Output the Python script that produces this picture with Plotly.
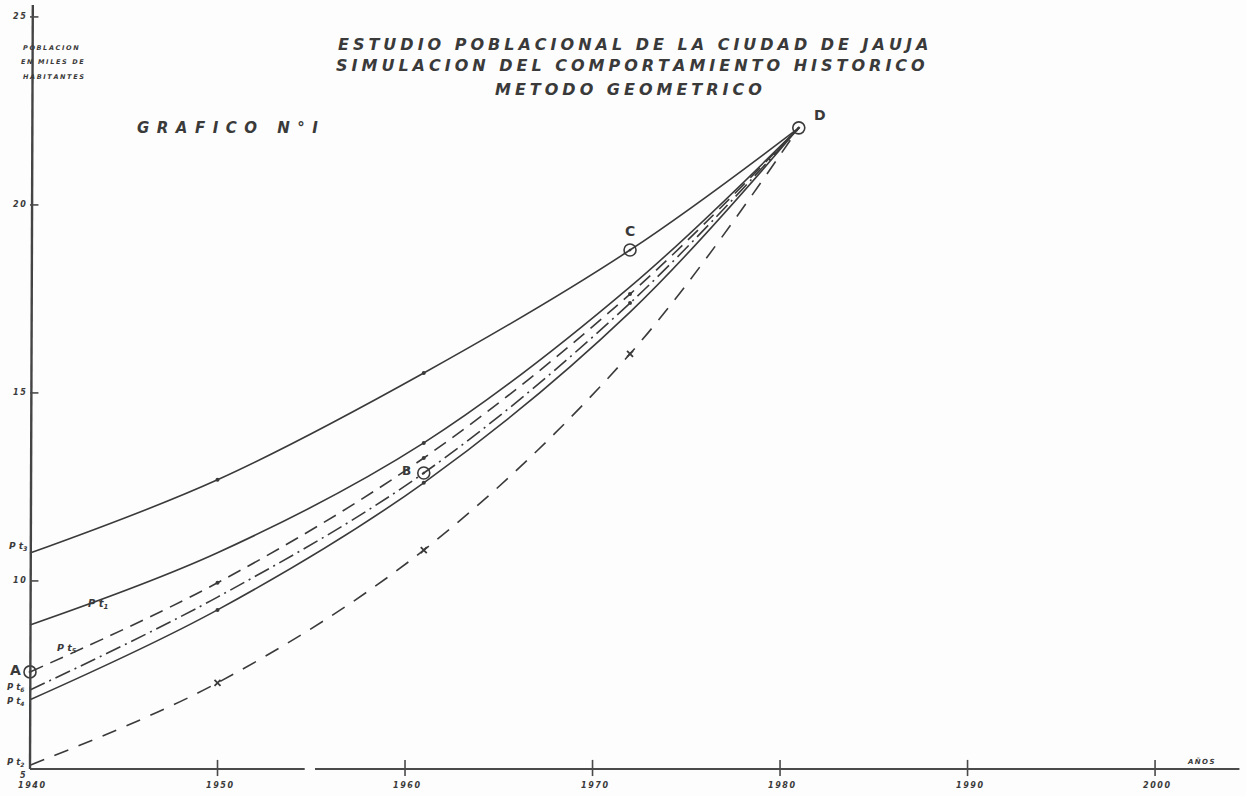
import plotly.graph_objects as go

# Census years and simulated population (thousands of inhabitants)
years = [1940, 1950, 1961, 1972, 1981]
pt3 = [10.74, 12.69, 15.53, 18.80, 22.05]
pt1 = [8.83, 10.75, 13.67, 17.82, 22.05]
pt5 = [7.58, 9.95, 13.27, 17.63, 22.05]
pt6 = [7.10, 9.57, 12.87, 17.39, 22.05]
pt4 = [6.84, 9.23, 12.61, 17.15, 22.05]
pt2 = [5.10, 7.29, 10.82, 16.04, 22.05]

# Census observations
census_labels = ["A", "B", "C", "D"]
census_years = [1940, 1961, 1972, 1981]
census_pop = [7.58, 12.87, 18.80, 22.05]

x_ticks = [1940, 1950, 1960, 1970, 1980, 1990, 2000]
y_ticks = [5, 10, 15, 20, 25]

INK = "#3a3a3a"
FONT = "DejaVu Sans"

fig = go.Figure()


def curve(ys, dash):
    fig.add_trace(go.Scatter(
        x=years, y=ys, mode="lines",
        line=dict(color=INK, width=1.6, dash=dash, shape="spline", smoothing=1.0),
        hoverinfo="skip", showlegend=False))


curve(pt3, "solid")
curve(pt1, "solid")
curve(pt5, "14px,8px")
curve(pt6, "16px,5px,2px,5px")
curve(pt4, "solid")
curve(pt2, "15px,11px")

# small dots marking computed values on the curves
dot_x, dot_y = [], []
for series, idxs in ((pt3, (1, 2)), (pt1, (2,)), (pt5, (1, 2, 3)),
                     (pt6, (3,)), (pt4, (1, 2))):
    for i in idxs:
        dot_x.append(years[i])
        dot_y.append(series[i])
fig.add_trace(go.Scatter(x=dot_x, y=dot_y, mode="markers",
                         marker=dict(color=INK, size=4), hoverinfo="skip",
                         showlegend=False))

# crosses on the lower curve
fig.add_trace(go.Scatter(x=years[1:4], y=pt2[1:4], mode="markers",
                         marker=dict(symbol="x-thin", size=6,
                                     line=dict(color=INK, width=1.8)),
                         hoverinfo="skip", showlegend=False))

# census points
fig.add_trace(go.Scatter(x=census_years, y=census_pop, mode="markers",
                         marker=dict(symbol="circle-open-dot", size=12,
                                     color=INK, line=dict(color=INK, width=1.6)),
                         hoverinfo="skip", showlegend=False))

# axes drawn by hand
x0, x1 = x_ticks[0], 2004.5
y0, y1 = y_ticks[0], 25.32
fig.add_trace(go.Scatter(x=[x0, x0 + 0.15], y=[y0, y1], mode="lines",
                         line=dict(color="#444444", width=2.4),
                         hoverinfo="skip", showlegend=False))
fig.add_trace(go.Scatter(x=[x0, 1954.65, None, 1955.2, x1], y=[y0, y0, None, y0, y0],
                         mode="lines", line=dict(color="#4a4a4a", width=2),
                         hoverinfo="skip", showlegend=False))
tx, ty = [], []
for t in x_ticks[1:]:
    tx += [t, t, None]
    ty += [y0 + 0.24, y0 - 0.19, None]
for t in y_ticks[1:]:
    tx += [x0, x0 + 0.45, None]
    ty += [t, t, None]
fig.add_trace(go.Scatter(x=tx, y=ty, mode="lines",
                         line=dict(color="#4a4a4a", width=1.6),
                         hoverinfo="skip", showlegend=False))

ann = []


def text(s, x, y, size, xanchor="center", ref="paper", italic=True, bold=True, color=INK):
    ann.append(dict(text=s, x=x, y=y, xref="paper" if ref == "paper" else "x",
                    yref="paper" if ref == "paper" else "y",
                    showarrow=False, xanchor=xanchor, yanchor="middle",
                    font=dict(family=FONT, size=size, color=color,
                              style="italic" if italic else "normal",
                              weight="bold" if bold else "normal")))


def spaced(s, sep="\u2009"):
    return sep.join(s)


W, H = 1246, 796


def px(xp, yp):
    return xp / W, 1 - yp / H


# tick labels
for t in x_ticks:
    text(spaced(str(t), "\u2009"), t + 0.1, 4.57, 8, ref="data")
for t in y_ticks:
    text(spaced(str(t), "\u2009"), x0 - 0.1, t - (0.18 if t == 5 else 0), 8,
         xanchor="right", ref="data")
text(spaced("AÑOS", "\u2009"), 2001.6, 5.2, 7, xanchor="left", ref="data")

# titles
text(spaced("ESTUDIO POBLACIONAL DE LA CIUDAD DE JAUJA", "\u2005"), *px(633, 45), 16)
text(spaced("SIMULACION DEL COMPORTAMIENTO HISTORICO", "\u2005"), *px(630, 66), 16)
text(spaced("METODO GEOMETRICO", "\u2005"), *px(628, 90), 16)
text(spaced("GRAFICO N°I", "\u2002"), *px(227, 128), 15)

# unit label
text(spaced("POBLACION", "\u2005"), *px(21, 48), 6.5, xanchor="left")
text(spaced("EN MILES DE", "\u2005"), *px(19, 62), 6.5, xanchor="left")
text(spaced("HABITANTES", "\u2005"), *px(21, 77), 6.5, xanchor="left")

# curve labels
text("P t<sub>3</sub>", *px(7, 546), 9, xanchor="left")
text("P t<sub>1</sub>", *px(86, 604), 10, xanchor="left")
text("P t<sub>5</sub>", *px(55, 648), 9.5, xanchor="left")
text("P t<sub>6</sub>", *px(5, 687), 8.5, xanchor="left")
text("P t<sub>4</sub>", *px(5, 701), 8.5, xanchor="left")
text("P t<sub>2</sub>", *px(5, 762), 8.5, xanchor="left")

# census point labels
offsets = {"A": (-0.35, 0.05, "right"), "B": (-0.6, 0.05, "right"),
           "C": (0.0, 0.5, "center"), "D": (0.7, 0.35, "left")}
for lab, yr, val in zip(census_labels, census_years, census_pop):
    dx, dy, xa = offsets[lab]
    text(lab, yr + dx, val + dy, 14 if lab != "B" else 12,
         xanchor=xa, ref="data", italic=False, bold=True)

fig.update_layout(
    width=W, height=H, autosize=False,
    margin=dict(l=0, r=0, t=0, b=0),
    paper_bgcolor="#fdfdfd", plot_bgcolor="#fdfdfd",
    xaxis=dict(range=[1938.4, 2004.85], visible=False, fixedrange=True),
    yaxis=dict(range=[4.28, 25.45], visible=False, fixedrange=True),
    annotations=ann,
    showlegend=False,
)

fig.write_html("out.html")
